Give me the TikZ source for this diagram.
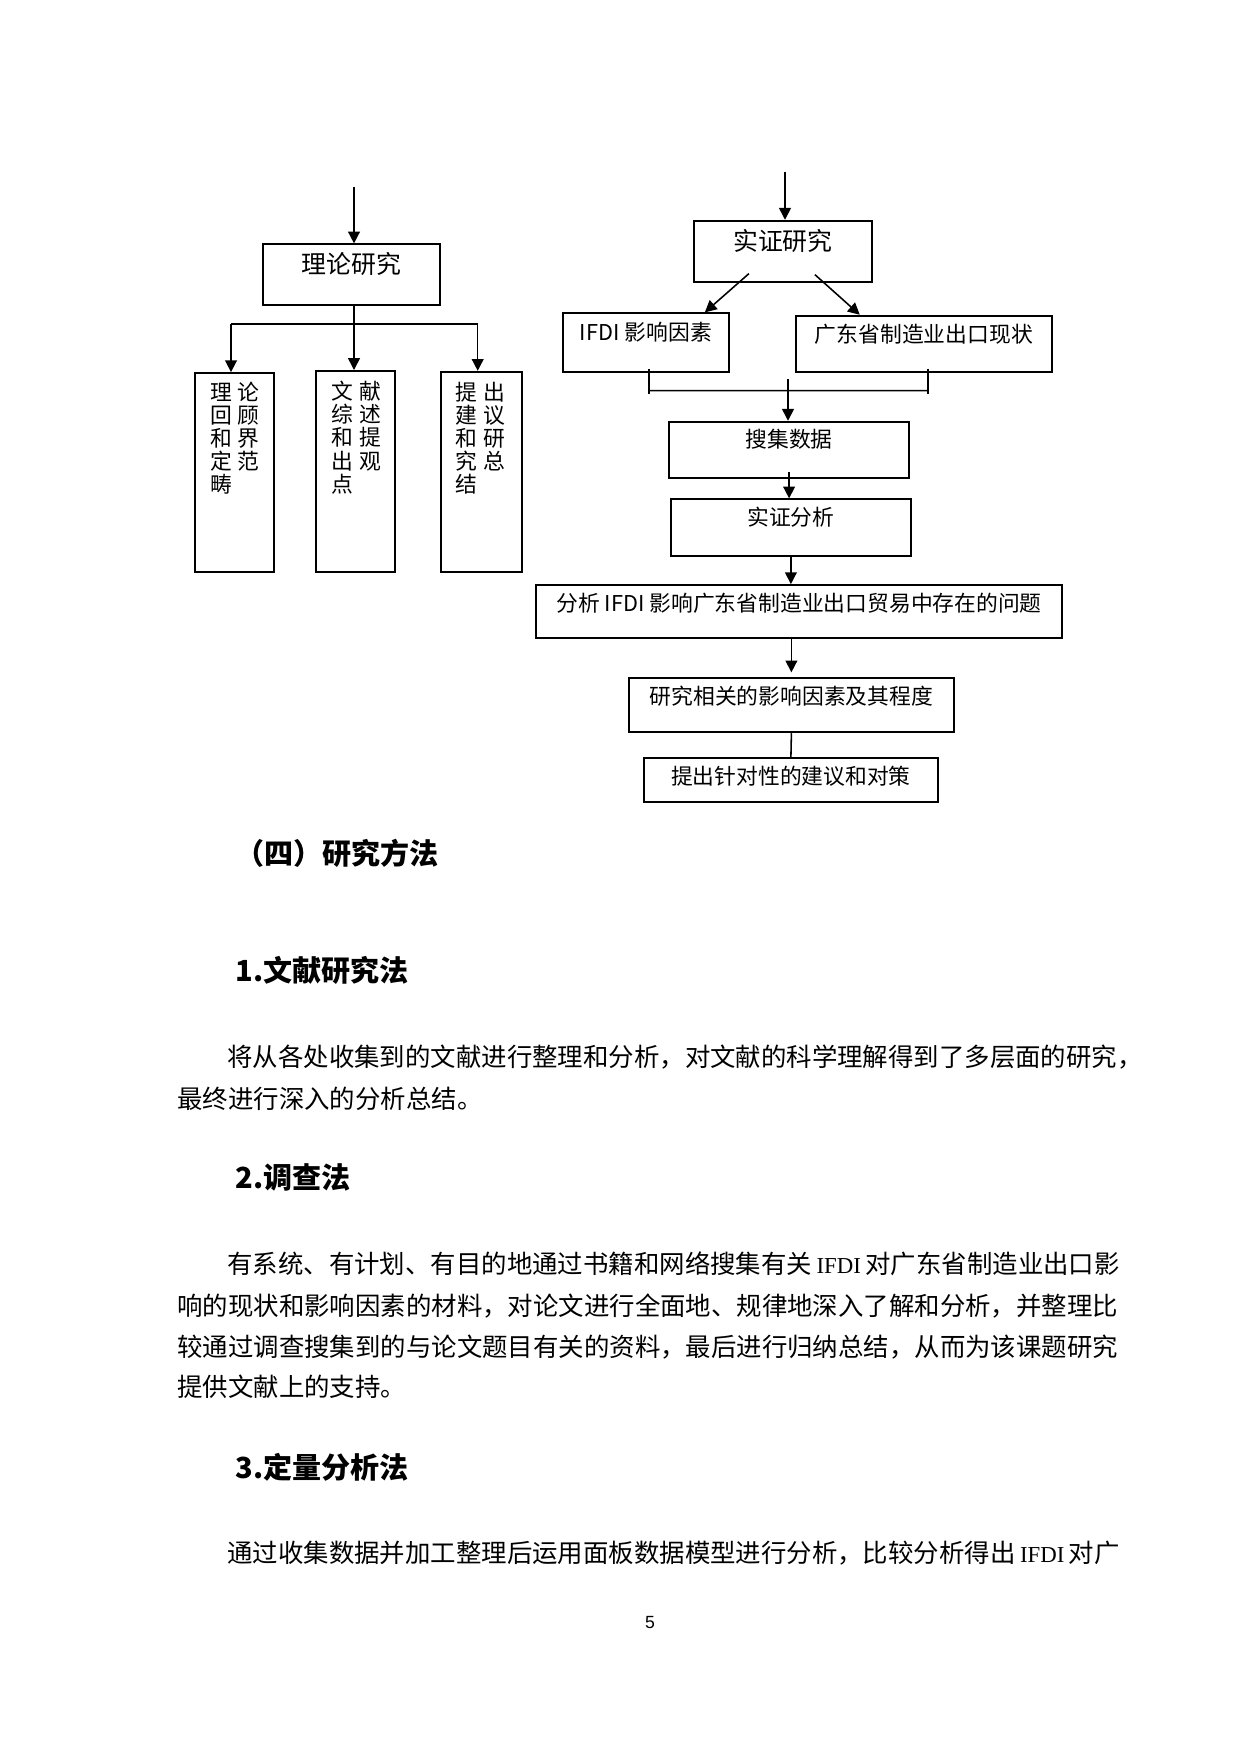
\documentclass[tikz,border=0pt]{standalone}
\usepackage{fontspec}
\setmainfont{Liberation Sans}
\newfontfamily\cjk{Noto Sans CJK SC}
\newfontfamily\tnr{Liberation Serif}
\usetikzlibrary{arrows.meta,positioning,calc}
\newdimen\pxu
\pxu=0.169355mm
\newcommand\chgap{\hspace{0.93mm}}
\newcommand\ifdiword{\kern4.5\pxu{\tnr\fontsize{11}{14}\selectfont IFDI}\kern4.5\pxu}

\tikzset{
    box/.style={draw, line width=0.9pt, inner sep=0pt},
    lbl/.style={inner sep=0pt, font=\cjk\fontsize{10.5}{12}\selectfont, text height=9.24pt, text depth=1.26pt},
    biglbl/.style={lbl, font=\cjk\fontsize{12}{14}\selectfont, text height=10.56pt, text depth=1.44pt},
    duo/.style={inner sep=0pt, align=left, font=\cjk\fontsize{10.5}{11.1}\selectfont},
    arr/.style={line width=0.75pt, -{Triangle[length=2mm,width=2mm]}},
    wire/.style={line width=0.75pt},
    head/.style={anchor=base west, inner sep=0pt, font=\cjk\bfseries\fontsize{14}{16}\selectfont},
    body/.style={anchor=base west, inner sep=0pt, font=\cjk\fontsize{12.25}{14}\selectfont},
}

\begin{document}
\begin{tikzpicture}[x=1\pxu, y=-1\pxu]
    \path[use as bounding box, fill=white] (0,0) rectangle (1240,1754);

    \node[box, minimum width=177.3\pxu, minimum height=60.7\pxu] (ll) at (351.4,274.7) {};
    \node[biglbl, below=8\pxu of ll.north] (ll-t) {理论研究};
    \node[box, minimum width=78.7\pxu, minimum height=198.7\pxu] (lb) at (234.4,472.4) {};
    \node[box, minimum width=79\pxu, minimum height=200.7\pxu] (lm) at (355.5,471.3) {};
    \node[box, minimum width=80.7\pxu, minimum height=200.3\pxu] (rb) at (481.3,471.9) {};
    \node[duo, below right=9.5\pxu and 16\pxu of lb.north west] (lb-t) {理\chgap 论\\回\chgap 顾\\和\chgap 界\\定\chgap 范\\畴};
    \node[duo, below right=11\pxu and 16.5\pxu of lm.north west] (lm-t) {文\chgap 献\\综\chgap 述\\和\chgap 提\\出\chgap 观\\点};
    \node[duo, below right=10.5\pxu and 15.5\pxu of rb.north west] (rb-t) {提\chgap 出\\建\chgap 议\\和\chgap 研\\究\chgap 总\\结};

    \coordinate (lin) at (354,187);
    \coordinate (lbar) at (231,324);
    \coordinate (rbar) at (477.7,324);
    \draw[arr] (lin) -- (lin |- ll.north);
    \draw[arr] (lin |- ll.south) -- (lin |- lm.north);
    \draw[wire] (lbar) -- (rbar);
    \draw[arr] (lbar) -- (lbar |- lb.north);
    \draw[arr] (rbar) -- (rbar |- rb.north);

    \node[box, minimum width=177.8\pxu, minimum height=61\pxu] (sz) at (782.9,251.2) {};
    \node[biglbl, below=8\pxu of sz.north] (sz-t) {实证研究};
    \node[box, minimum width=166\pxu, minimum height=58.4\pxu] (ifdi) at (645.9,342.5) {};
    \node[lbl, below=8.5\pxu of ifdi.north] (ifdi-t) {IFDI 影响因素};
    \node[box, minimum width=256.4\pxu, minimum height=56\pxu] (gd) at (923.9,343.7) {};
    \node[lbl, below=8\pxu of gd.north] (gd-t) {广东省制造业出口现状};
    \node[box, minimum width=240.4\pxu, minimum height=56\pxu] (sj) at (789.1,449.7) {};
    \node[lbl, below=7.5\pxu of sj.north] (sj-t) {搜集数据};
    \node[box, minimum width=240.4\pxu, minimum height=56.4\pxu] (fx) at (790.9,527.5) {};
    \node[lbl, below=8\pxu of fx.north] (fx-t) {实证分析};
    \node[box, minimum width=526\pxu, minimum height=53.3\pxu] (wt) at (799.1,611.7) {};
    \node[lbl, below=7.5\pxu of wt.north] (wt-t) {分析 IFDI 影响广东省制造业出口贸易中存在的问题};
    \node[box, minimum width=325\pxu, minimum height=54\pxu] (yj) at (791.4,705.3) {};
    \node[lbl, below=8\pxu of yj.north] (yj-t) {研究相关的影响因素及其程度};
    \node[box, minimum width=294\pxu, minimum height=44\pxu] (dc) at (790.9,780.3) {};
    \node[lbl, below=7.5\pxu of dc.north] (dc-t) {提出针对性的建议和对策};

    \coordinate (rin) at (785,171.7);
    \coordinate (jm) at (788,379.3);
    \draw[arr] (rin) -- (rin |- sz.north);
    \draw[arr] ($(sz.south)+(-34,-9)$) -- ($(ifdi.north east)+(-25,0)$);
    \draw[arr] ($(sz.south)+(32,-8)$) -- ($(gd.north west)+(65,0)$);
    \draw[wire] ($(ifdi.south)+(3,-4)$) coordinate (jl) -- ++(0,25);
    \draw[wire] ($(gd.south)+(4,-4)$) coordinate (jr) -- ++(0,25);
    \draw[wire] ($(jl)+(0,22)$) -- ($(jr)+(0,22)$);
    \draw[arr] (jm) -- (jm |- sj.north);
    \draw[arr] ($(sj.south)+(0,-7)$) -- (sj.south |- fx.north);
    \draw[arr] (fx.south) -- (fx.south |- wt.north);
    \draw[arr] (yj.north |- wt.south) -- ($(yj.north)+(0,-5)$);
    \draw[wire] (yj.south) -- (dc.north);

    \node[head] (h4) at (235,864.3) {（四）研究方法};
    \node[head] (h1) at (235,981) {1.文献研究法};
    \node[body] (p1a) at (227,1066.7) {将从各处收集到的文献进行整理和分析，对文献的科学理解得到了多层面的研究，};
    \node[body] (p1b) at (177,1108) {最终进行深入的分析总结。};
    \node[head] (h2) at (235,1188.5) {2.调查法};
    \node[body] (p2a) at (227,1273.7) {有系统、有计划、有目的地通过书籍和网络搜集有关\ifdiword 对广东省制造业出口影};
    \node[body] (p2b) at (177,1315.2) {响的现状和影响因素的材料，对论文进行全面地、规律地深入了解和分析，并整理比};
    \node[body] (p2c) at (177,1356.7) {较通过调查搜集到的与论文题目有关的资料，最后进行归纳总结，从而为该课题研究};
    \node[body] (p2d) at (177,1396.7) {提供文献上的支持。};
    \node[head] (h3) at (235,1478.8) {3.定量分析法};
    \node[body] (p3a) at (227,1562.7) {通过收集数据并加工整理后运用面板数据模型进行分析，比较分析得出\ifdiword 对广};
    \node[inner sep=0pt, font=\fontsize{8.5}{10}\selectfont] (pg) at (650,1622.7) {5};
\end{tikzpicture}
\end{document}
